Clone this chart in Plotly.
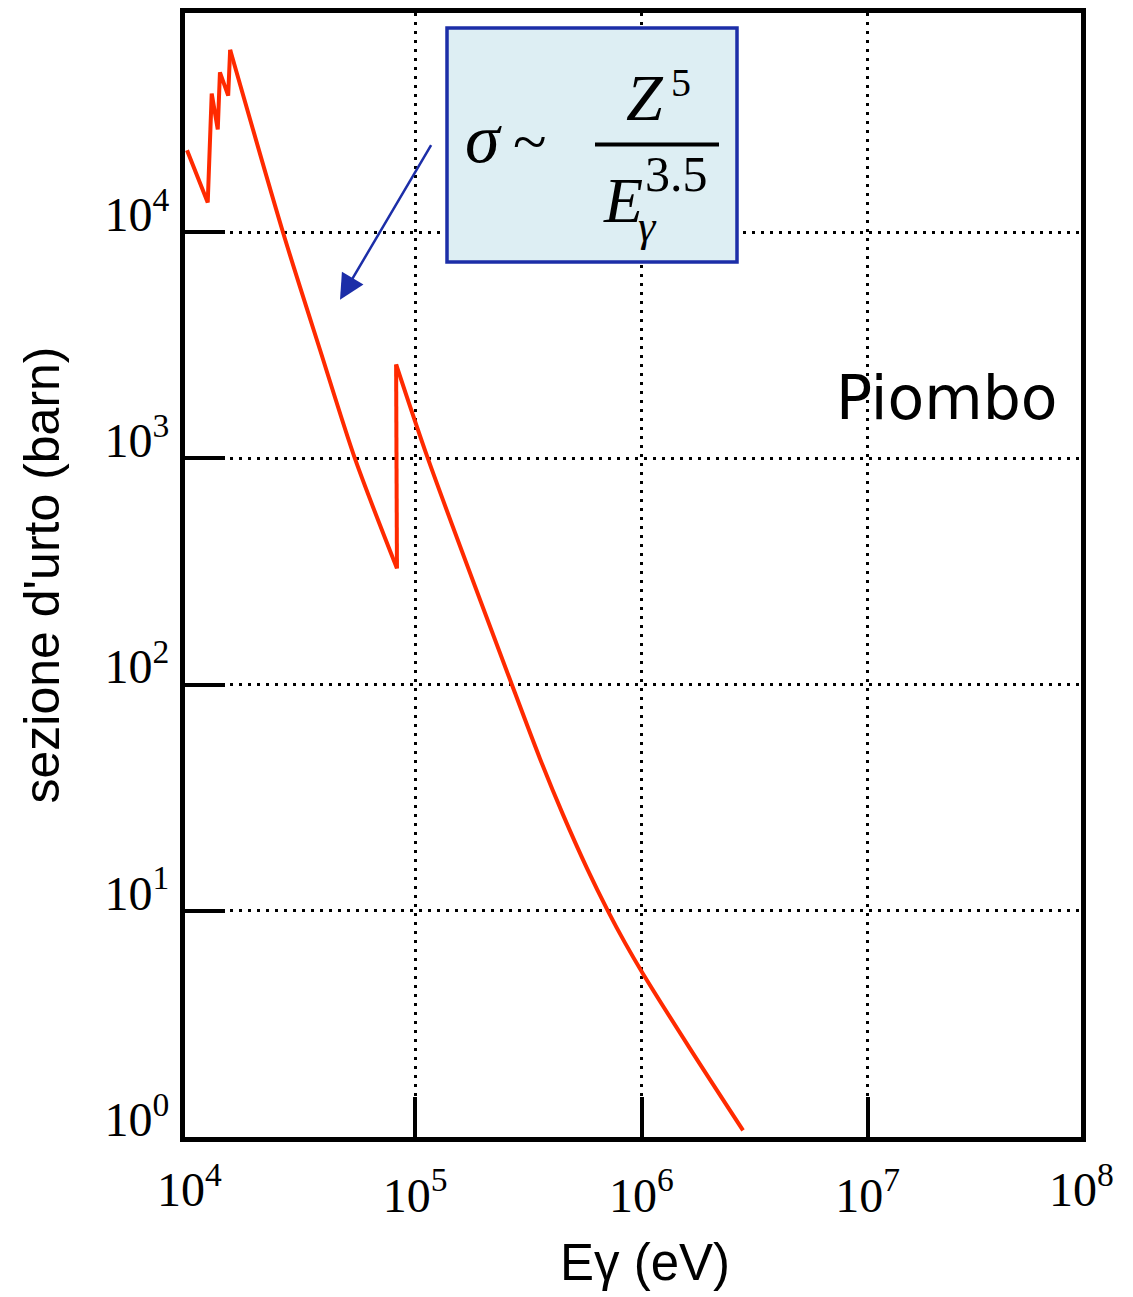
import plotly.graph_objects as go

# ---- data ----
energy_eV = [9800, 12100, 12600, 13400, 13700, 14900, 15200, 26000, 37900, 54200,
             83000, 82300, 113900, 267700, 355900, 449800, 574300, 711000, 845600,
             1015000, 1638000, 2810000]
sigma_barn = [23000, 13500, 40900, 28400, 50800, 40100, 63900, 10000, 3025, 993,
              326, 2600, 993, 99.5, 47.0, 26.6, 15.4, 9.97, 7.21,
              5.27, 2.46, 1.07]

# pieces of the curve: (first index, last index, line shape)
segments = [(0, 6, "linear"), (6, 10, "spline"), (10, 11, "linear"), (11, 21, "spline")]

x_tickvals = [1e5, 1e6, 1e7]
x_ticktext = ["10<sup>5</sup>", "10<sup>6</sup>", "10<sup>7</sup>"]
x_edge_labels = ["10<sup>4</sup>", "10<sup>8</sup>"]   # labels at the left / right frame edges
y_tickvals = [1, 10, 100, 1000, 10000]
y_ticktext = ["10<sup>0</sup>", "10<sup>1</sup>", "10<sup>2</sup>", "10<sup>3</sup>", "10<sup>4</sup>"]

# ---- layout geometry (pixels of the page) ----
W, H = 1133, 1297
L, R, T, B = 185, 1081, 8, 1137


def px(x):
    return (x - L) / (R - L)


def py(y):
    return (B - y) / (B - T)


SERIF = "Liberation Serif, Times New Roman, serif"
SANS = "Liberation Sans, Arial, sans-serif"
BLUE = "#1c2ea8"
RED = "#ff2a00"

fig = go.Figure()
for i0, i1, shape in segments:
    fig.add_trace(go.Scatter(x=energy_eV[i0:i1 + 1], y=sigma_barn[i0:i1 + 1], mode="lines",
                             line=dict(color=RED, width=4, shape=shape, smoothing=0.8),
                             showlegend=False, hoverinfo="skip"))

axis_common = dict(type="log", showline=True, linecolor="black", linewidth=5, mirror=True,
                   ticks="inside", ticklen=40, tickwidth=4, tickcolor="black",
                   showgrid=True, gridcolor="black", gridwidth=3, griddash="3px,6px",
                   zeroline=False, tickfont=dict(family=SERIF, size=48, color="black"))

fig.update_xaxes(range=[3.9823, 7.9425], tickvals=x_tickvals, ticktext=x_ticktext,
                 ticklabelstandoff=12, **axis_common)
fig.update_yaxes(range=[0, 4.968], tickvals=y_tickvals, ticktext=y_ticktext,
                 ticklabelstandoff=1, ticklabelshift=-18, **axis_common)

shapes = [
    dict(type="rect", xref="paper", yref="paper", x0=px(447), x1=px(737), y0=py(258), y1=py(23),
         fillcolor="#ddeef3", line=dict(color=BLUE, width=3.5), layer="above"),
    dict(type="line", xref="paper", yref="paper", x0=px(595), x1=px(719), y0=py(140), y1=py(140),
         line=dict(color="black", width=4), layer="above"),
]

ann = []


def text(x, y, s, size, family=SERIF, xanchor="center", yanchor="middle"):
    ann.append(dict(x=px(x), y=py(y), xref="paper", yref="paper", text=s, showarrow=False,
                    font=dict(family=family, size=size, color="black"),
                    xanchor=xanchor, yanchor=yanchor))


# formula pieces
text(483, 134, "<i>σ</i>", 70)
text(530, 137, "~", 62)
text(645, 93, "<i>Z</i>", 66)
text(681, 78, "5", 40)
text(623, 196, "<i>E</i>", 64)
text(676, 170, "3.5", 50)
text(647, 222, "<i>γ</i>", 44)

# Piombo
text(946, 395, "Piombo", 60, family="DejaVu Sans, Verdana, sans-serif")

# x-axis labels at the frame edges
text(189, 1186, x_edge_labels[0], 48)
text(1081, 1186, x_edge_labels[1], 48)

# axis titles
ann.append(dict(x=px(645), y=py(1263), xref="paper", yref="paper", text="Eγ (eV)",
                showarrow=False, font=dict(family=SANS, size=51, color="black"),
                xanchor="center", yanchor="middle"))
ann.append(dict(x=px(42), y=py(573), xref="paper", yref="paper", text="sezione d'urto (barn)",
                showarrow=False, textangle=-90, font=dict(family=SANS, size=50, color="black"),
                xanchor="center", yanchor="middle"))

# arrow
ann.append(dict(x=px(340), y=py(296), xref="paper", yref="paper", text="", showarrow=True,
                ax=432 - 340, ay=140 - 296, arrowhead=2, arrowsize=2, arrowwidth=2.5,
                arrowcolor=BLUE, standoff=0))

fig.update_layout(width=W, height=H, margin=dict(l=L, r=W - R, t=T, b=H - B),
                  plot_bgcolor="white", paper_bgcolor="white",
                  shapes=shapes, annotations=ann)

fig.write_html("out.html", post_script="document.body.style.margin='0';",
               config={"displayModeBar": False})
